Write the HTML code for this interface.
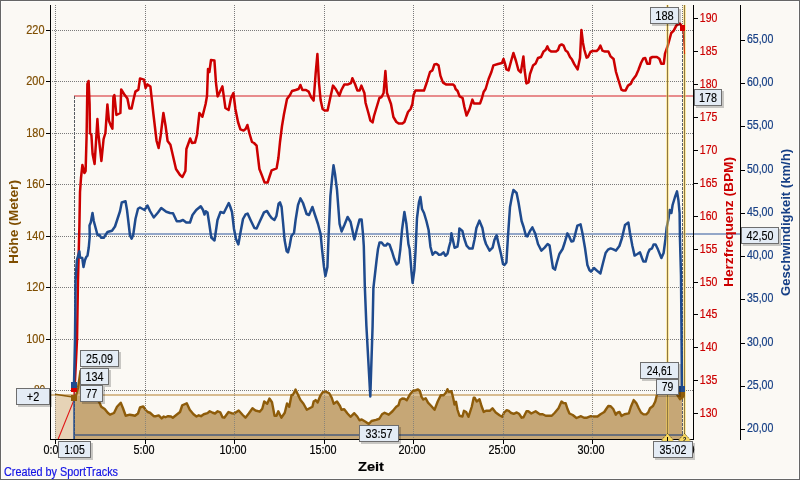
<!DOCTYPE html>
<html><head><meta charset="utf-8"><title>Chart</title>
<style>
html,body{margin:0;padding:0;background:#FBF9F4;overflow:hidden}
svg{display:block;will-change:transform;transform:translateZ(0)}
text{font-family:"Liberation Sans",sans-serif}
</style></head><body>
<svg width="800" height="480" viewBox="0 0 800 480">
<rect x="0" y="0" width="800" height="480" fill="#FBF9F4"/>
<rect x="0.5" y="0.5" width="799" height="479" fill="none" stroke="#666666" stroke-width="1" shape-rendering="crispEdges"/>
<rect x="1.5" y="1.5" width="797" height="477" fill="none" stroke="#ffffff" stroke-opacity="0.6" stroke-width="1" shape-rendering="crispEdges"/>
<g stroke="#7a7a7a" stroke-width="1" stroke-dasharray="1 1" shape-rendering="crispEdges" fill="none">
<line x1="55.5" y1="5" x2="55.5" y2="439"/>
<line x1="145.5" y1="5" x2="145.5" y2="439"/>
<line x1="234.5" y1="5" x2="234.5" y2="439"/>
<line x1="324.5" y1="5" x2="324.5" y2="439"/>
<line x1="413.5" y1="5" x2="413.5" y2="439"/>
<line x1="503.5" y1="5" x2="503.5" y2="439"/>
<line x1="592.5" y1="5" x2="592.5" y2="439"/>
<line x1="682.5" y1="5" x2="682.5" y2="439"/>
<line x1="52" y1="30.5" x2="693" y2="30.5"/>
<line x1="52" y1="81.5" x2="693" y2="81.5"/>
<line x1="52" y1="133.5" x2="693" y2="133.5"/>
<line x1="52" y1="184.5" x2="693" y2="184.5"/>
<line x1="52" y1="236.5" x2="693" y2="236.5"/>
<line x1="52" y1="287.5" x2="693" y2="287.5"/>
<line x1="52" y1="339.5" x2="693" y2="339.5"/>
<line x1="52" y1="390.5" x2="693" y2="390.5"/>
</g>
<polygon fill="#E6D3B6" points="55,439 55.00,394.30 71.30,396.70 74.00,398.00 74,439"/>
<polygon fill="#C6A776" points="74,439 74.00,398.00 76.20,395.00 78.00,388.00 80.50,371.00 84.00,371.00 90.00,386.00 96.00,399.00 99.30,402.25 101.25,406.75 104.70,409.00 107.70,412.75 110.00,414.70 114.00,413.00 117.00,406.75 120.75,402.70 123.00,408.25 125.70,415.75 129.75,414.70 132.75,415.30 135.00,415.75 138.00,413.50 140.00,407.50 143.25,406.45 145.50,409.75 147.75,412.00 150.00,412.75 153.75,416.20 156.00,416.20 158.70,415.45 161.70,418.45 163.80,416.50 165.45,417.25 168.00,416.20 171.00,416.50 172.80,417.70 176.25,415.00 180.00,412.00 182.25,405.25 186.75,403.30 189.75,409.75 193.50,414.25 196.50,416.50 198.75,415.30 201.00,416.20 203.75,414.25 207.50,413.20 209.75,411.25 212.75,412.75 215.00,413.50 217.70,411.25 220.25,412.30 222.50,417.25 224.30,417.70 228.50,412.00 231.50,413.20 234.20,413.50 238.70,410.50 242.75,415.00 245.45,417.70 248.75,413.50 252.50,408.25 255.50,410.50 259.70,411.70 262.25,408.70 264.20,401.50 267.20,403.75 269.45,398.50 272.00,402.25 274.55,415.75 276.50,415.75 278.30,411.25 281.45,417.70 284.75,412.75 287.00,403.45 289.25,406.75 291.50,395.20 293.00,394.75 295.55,389.50 297.50,393.70 300.50,400.00 303.50,403.75 306.80,409.75 312.40,406.75 313.65,401.50 315.60,400.10 317.60,402.50 320.20,396.00 322.75,392.20 325.75,391.45 329.20,393.25 331.75,397.75 333.70,403.75 337.00,401.50 340.00,406.00 341.50,409.75 344.20,409.30 347.50,413.50 350.50,416.80 354.25,413.20 357.25,416.50 359.50,420.25 361.75,419.50 365.50,421.75 368.80,424.00 371.50,421.00 376.00,419.95 379.30,418.75 382.00,414.25 384.55,412.75 388.75,414.70 392.50,411.25 396.25,406.75 398.50,405.25 400.00,400.00 402.25,398.50 404.50,398.80 406.75,400.30 409.75,394.75 412.75,391.00 415.75,390.25 418.00,389.50 419.90,391.00 421.40,396.60 423.30,399.50 425.70,398.20 428.00,402.60 431.25,406.00 434.55,409.75 437.70,401.50 440.70,395.20 443.70,395.20 445.80,392.80 447.45,389.20 448.80,391.75 451.50,391.30 453.30,398.50 454.50,404.50 456.00,401.80 457.50,409.75 459.45,415.75 462.45,416.50 463.95,410.80 466.20,412.00 468.45,416.80 471.75,406.75 473.70,397.75 474.75,397.75 476.70,401.50 479.55,399.25 481.50,406.00 483.75,412.00 486.00,410.80 489.75,410.80 492.45,408.25 495.75,412.45 499.50,415.30 502.20,416.80 504.00,412.75 506.70,410.20 508.80,410.80 510.75,412.75 513.75,413.80 516.75,412.45 519.00,413.80 521.70,417.70 523.50,417.25 526.50,411.25 528.30,411.25 531.30,413.50 535.60,411.25 539.75,414.25 542.75,414.25 545.75,415.75 551.75,415.75 554.75,412.75 558.50,408.25 561.50,401.50 563.30,403.00 565.70,403.30 567.50,409.00 569.45,413.50 572.75,415.00 576.50,418.00 581.00,416.20 584.00,417.70 587.00,417.70 590.75,416.20 593.75,416.50 597.50,416.50 600.50,414.25 604.25,412.00 606.20,409.00 608.30,406.00 610.70,406.30 613.25,409.00 615.80,414.70 617.30,412.75 619.55,412.00 621.50,415.90 624.50,414.25 628.80,413.30 630.80,407.00 633.65,400.10 636.30,403.10 638.75,408.25 641.00,412.50 643.50,414.40 646.25,414.30 648.20,412.40 650.00,408.25 653.00,406.00 655.25,401.50 656.75,395.50 659.00,388.00 664.00,384.00 670.00,386.00 675.00,391.00 677.75,395.50 680.00,399.25 682.25,394.00 682.4,439"/>
<rect x="51" y="394" width="631" height="2" fill="#D8BC90" shape-rendering="crispEdges"/>
<polyline fill="none" stroke="#8E5C0A" stroke-width="1.6" stroke-linejoin="round" points="55.00,394.30 71.30,396.70 74.00,398.00"/>
<polyline fill="none" stroke="#8E5C0A" stroke-width="2.4" stroke-linejoin="round" stroke-linecap="round" points="74.00,398.00 76.20,395.00 78.00,388.00 80.50,371.00 84.00,371.00 90.00,386.00 96.00,399.00 99.30,402.25 101.25,406.75 104.70,409.00 107.70,412.75 110.00,414.70 114.00,413.00 117.00,406.75 120.75,402.70 123.00,408.25 125.70,415.75 129.75,414.70 132.75,415.30 135.00,415.75 138.00,413.50 140.00,407.50 143.25,406.45 145.50,409.75 147.75,412.00 150.00,412.75 153.75,416.20 156.00,416.20 158.70,415.45 161.70,418.45 163.80,416.50 165.45,417.25 168.00,416.20 171.00,416.50 172.80,417.70 176.25,415.00 180.00,412.00 182.25,405.25 186.75,403.30 189.75,409.75 193.50,414.25 196.50,416.50 198.75,415.30 201.00,416.20 203.75,414.25 207.50,413.20 209.75,411.25 212.75,412.75 215.00,413.50 217.70,411.25 220.25,412.30 222.50,417.25 224.30,417.70 228.50,412.00 231.50,413.20 234.20,413.50 238.70,410.50 242.75,415.00 245.45,417.70 248.75,413.50 252.50,408.25 255.50,410.50 259.70,411.70 262.25,408.70 264.20,401.50 267.20,403.75 269.45,398.50 272.00,402.25 274.55,415.75 276.50,415.75 278.30,411.25 281.45,417.70 284.75,412.75 287.00,403.45 289.25,406.75 291.50,395.20 293.00,394.75 295.55,389.50 297.50,393.70 300.50,400.00 303.50,403.75 306.80,409.75 312.40,406.75 313.65,401.50 315.60,400.10 317.60,402.50 320.20,396.00 322.75,392.20 325.75,391.45 329.20,393.25 331.75,397.75 333.70,403.75 337.00,401.50 340.00,406.00 341.50,409.75 344.20,409.30 347.50,413.50 350.50,416.80 354.25,413.20 357.25,416.50 359.50,420.25 361.75,419.50 365.50,421.75 368.80,424.00 371.50,421.00 376.00,419.95 379.30,418.75 382.00,414.25 384.55,412.75 388.75,414.70 392.50,411.25 396.25,406.75 398.50,405.25 400.00,400.00 402.25,398.50 404.50,398.80 406.75,400.30 409.75,394.75 412.75,391.00 415.75,390.25 418.00,389.50 419.90,391.00 421.40,396.60 423.30,399.50 425.70,398.20 428.00,402.60 431.25,406.00 434.55,409.75 437.70,401.50 440.70,395.20 443.70,395.20 445.80,392.80 447.45,389.20 448.80,391.75 451.50,391.30 453.30,398.50 454.50,404.50 456.00,401.80 457.50,409.75 459.45,415.75 462.45,416.50 463.95,410.80 466.20,412.00 468.45,416.80 471.75,406.75 473.70,397.75 474.75,397.75 476.70,401.50 479.55,399.25 481.50,406.00 483.75,412.00 486.00,410.80 489.75,410.80 492.45,408.25 495.75,412.45 499.50,415.30 502.20,416.80 504.00,412.75 506.70,410.20 508.80,410.80 510.75,412.75 513.75,413.80 516.75,412.45 519.00,413.80 521.70,417.70 523.50,417.25 526.50,411.25 528.30,411.25 531.30,413.50 535.60,411.25 539.75,414.25 542.75,414.25 545.75,415.75 551.75,415.75 554.75,412.75 558.50,408.25 561.50,401.50 563.30,403.00 565.70,403.30 567.50,409.00 569.45,413.50 572.75,415.00 576.50,418.00 581.00,416.20 584.00,417.70 587.00,417.70 590.75,416.20 593.75,416.50 597.50,416.50 600.50,414.25 604.25,412.00 606.20,409.00 608.30,406.00 610.70,406.30 613.25,409.00 615.80,414.70 617.30,412.75 619.55,412.00 621.50,415.90 624.50,414.25 628.80,413.30 630.80,407.00 633.65,400.10 636.30,403.10 638.75,408.25 641.00,412.50 643.50,414.40 646.25,414.30 648.20,412.40 650.00,408.25 653.00,406.00 655.25,401.50 656.75,395.50 659.00,388.00 664.00,384.00 670.00,386.00 675.00,391.00 677.75,395.50 680.00,399.25 682.25,394.00"/>
<g stroke="#8a8478" stroke-width="1" stroke-dasharray="1 1" shape-rendering="crispEdges" fill="none">
<line x1="55.5" y1="393" x2="55.5" y2="439"/>
<line x1="145.5" y1="393" x2="145.5" y2="439"/>
<line x1="234.5" y1="393" x2="234.5" y2="439"/>
<line x1="324.5" y1="393" x2="324.5" y2="439"/>
<line x1="413.5" y1="393" x2="413.5" y2="439"/>
<line x1="503.5" y1="393" x2="503.5" y2="439"/>
<line x1="592.5" y1="393" x2="592.5" y2="439"/>
</g>
<rect x="75" y="434" width="607.5" height="2" fill="#6A6F79" shape-rendering="crispEdges"/>
<rect x="74" y="95" width="619" height="2" fill="#E88C8C" shape-rendering="crispEdges"/>
<rect x="74" y="233" width="666" height="2" fill="#93A7C8" shape-rendering="crispEdges"/>
<line x1="74.5" y1="96" x2="74.5" y2="439" stroke="#565B62" stroke-width="1" stroke-dasharray="3 1" shape-rendering="crispEdges"/>
<line x1="682.5" y1="31" x2="682.5" y2="439" stroke="#5A6070" stroke-width="1" stroke-dasharray="3 1" shape-rendering="crispEdges"/>
<polyline fill="none" stroke="#E01818" stroke-width="1.1" points="58.2,439 73.8,400.5 74,390"/>
<polyline fill="none" stroke="#CC0000" stroke-width="2.5" stroke-linejoin="round" stroke-linecap="round" points="74.00,390.00 75.00,380.00 77.00,340.00 78.00,280.00 79.40,226.00 80.00,192.00 81.00,178.00 82.40,165.00 84.40,173.00 85.60,171.00 86.60,136.00 87.40,84.00 88.60,81.00 89.60,104.00 90.00,133.00 91.40,135.00 92.60,154.00 94.60,164.00 96.00,142.00 97.40,119.00 98.40,134.00 101.40,161.00 103.60,139.00 105.40,133.00 107.40,104.40 109.00,121.00 111.00,126.00 112.40,128.60 113.40,97.00 114.40,95.00 116.40,115.00 120.40,113.00 121.20,89.40 124.00,94.00 127.40,98.60 129.40,108.60 131.60,108.60 133.40,100.00 135.40,91.60 138.40,89.60 140.00,78.40 144.00,79.60 145.60,88.00 147.40,84.40 150.40,86.60 153.40,114.00 156.60,141.00 158.60,148.00 160.60,136.00 163.40,113.00 165.60,126.00 167.60,141.00 170.40,144.80 176.00,169.00 180.00,175.00 182.40,177.00 185.40,171.00 186.40,149.00 190.20,138.50 192.00,143.00 195.00,142.60 197.00,135.00 199.40,113.00 202.40,116.80 205.60,104.00 207.00,96.00 208.00,69.00 209.40,72.00 211.00,60.00 214.40,60.40 216.00,83.00 217.60,96.40 220.00,91.60 222.40,86.40 225.40,108.00 228.60,110.00 231.00,98.00 233.40,93.00 235.40,109.00 238.00,122.00 240.40,129.40 243.60,130.60 245.60,129.00 247.40,125.00 249.60,134.00 252.00,142.00 254.00,143.00 256.60,145.60 259.40,169.00 262.00,175.60 264.60,182.60 267.60,182.60 269.40,177.00 271.60,170.40 276.60,168.40 278.40,158.00 280.00,142.00 282.00,126.00 284.00,114.00 287.00,99.00 290.00,95.00 292.00,91.00 295.60,90.00 298.60,89.00 300.40,85.00 302.40,90.00 306.00,90.00 308.60,91.60 311.00,97.00 313.60,100.60 315.60,74.00 317.40,54.00 319.00,83.00 320.60,100.00 322.60,109.00 325.00,110.60 327.60,110.40 330.00,99.00 333.00,85.60 336.00,89.60 339.40,95.60 341.40,90.00 344.40,84.40 348.00,84.40 351.00,83.00 352.40,78.20 355.00,84.00 357.40,90.50 359.60,90.60 361.40,85.60 364.40,93.00 365.60,103.00 368.40,113.00 370.40,120.60 372.60,122.40 374.00,116.00 379.40,98.00 381.60,97.00 383.60,93.00 385.40,71.00 387.00,93.00 391.00,104.00 393.40,117.00 396.40,122.00 399.00,123.60 402.40,123.60 404.40,122.00 408.00,112.00 410.60,109.00 412.40,104.00 413.60,95.00 415.40,90.60 424.00,90.60 426.60,83.00 430.00,72.00 432.40,70.40 434.40,64.40 436.60,64.00 438.60,65.60 440.40,75.60 443.00,82.60 446.00,84.40 453.00,84.40 454.60,86.00 455.60,89.00 457.60,91.00 459.60,96.40 462.60,98.00 464.40,107.00 466.60,115.60 469.60,109.00 472.40,99.60 474.00,103.60 480.00,103.60 482.00,98.00 483.60,92.00 485.60,89.00 488.60,79.00 491.40,72.00 493.40,65.40 498.00,64.00 502.00,63.00 503.50,59.00 505.00,63.60 506.40,69.40 508.60,70.40 511.40,60.00 513.40,53.00 516.00,61.00 518.40,70.00 520.80,72.40 523.40,56.40 524.60,70.00 526.40,83.40 528.60,82.40 530.00,74.00 533.00,65.60 535.60,63.60 538.00,58.00 541.00,57.00 543.60,51.40 545.60,50.00 547.40,46.40 549.00,50.00 551.40,51.60 556.00,51.60 558.00,50.00 559.60,45.60 561.60,44.40 563.60,45.60 565.60,50.60 567.60,52.00 570.00,57.00 572.00,59.60 574.40,64.40 577.60,69.40 580.00,58.00 581.40,30.00 583.00,43.00 584.40,50.00 586.60,57.60 588.00,57.00 590.40,52.00 592.60,51.00 596.60,51.00 598.40,49.40 600.40,45.60 602.40,50.60 605.00,51.60 608.40,51.60 610.60,56.40 613.60,59.00 616.00,72.00 619.00,82.00 621.40,89.60 623.40,90.60 625.60,90.40 628.00,85.60 631.00,83.60 632.60,80.00 636.00,75.40 638.40,70.00 641.00,63.00 643.40,58.40 645.20,58.00 647.25,63.75 649.75,63.75 650.40,58.00 652.50,57.00 656.90,57.00 659.40,58.75 661.25,63.75 663.75,63.75 665.00,53.75 668.00,45.00 671.25,33.00 673.75,30.60 676.25,25.60 678.00,24.40 680.00,23.75 682.00,26.50"/>
<line x1="74" y1="400" x2="74" y2="439" stroke="#1F4B8E" stroke-width="1.4"/>
<polyline fill="none" stroke="#1F4B8E" stroke-width="2.5" stroke-linejoin="round" stroke-linecap="round" points="74.00,385.00 75.00,340.00 75.60,280.00 76.90,260.00 79.40,251.25 80.00,257.50 82.25,258.00 83.50,267.00 85.00,260.00 86.25,257.00 87.50,255.60 88.75,247.50 89.75,236.25 89.50,225.50 90.75,222.50 92.50,213.00 93.75,221.00 97.50,235.00 99.50,235.00 101.25,237.70 103.75,237.70 107.50,232.00 112.00,230.70 115.00,226.50 120.00,211.25 121.75,202.50 125.50,201.25 127.00,210.00 130.00,235.50 131.60,238.75 133.20,235.00 135.50,218.75 138.00,208.75 140.00,207.50 144.50,210.00 147.50,205.50 150.00,211.00 153.75,217.50 158.00,212.50 161.25,208.00 166.25,211.75 170.00,213.00 173.00,213.25 176.75,221.25 180.00,221.25 183.00,220.00 186.25,222.50 190.00,222.50 192.50,215.00 196.25,210.00 200.75,206.25 203.00,210.00 204.50,214.50 205.75,211.25 207.50,212.50 209.25,223.75 211.25,237.50 214.50,240.50 217.50,220.00 220.50,212.00 223.75,213.00 228.75,203.00 230.00,206.00 232.00,212.00 234.00,229.00 236.00,239.00 238.40,244.40 240.40,233.00 243.00,219.00 245.60,214.40 247.60,213.60 251.00,221.00 254.40,228.00 256.60,228.40 260.00,221.00 264.00,212.40 267.00,211.00 269.40,215.00 271.60,218.00 274.40,220.00 276.40,216.00 278.60,203.60 280.00,202.40 281.60,207.00 283.00,222.00 284.60,240.00 286.60,251.00 288.00,252.40 289.60,246.00 291.40,236.00 294.00,233.00 295.60,220.00 298.00,205.00 300.40,198.40 303.00,203.00 306.60,214.00 309.00,215.00 312.40,207.00 315.00,215.00 318.00,224.00 320.60,234.00 322.00,249.00 324.00,267.00 325.40,276.00 327.40,267.00 328.60,236.00 330.40,196.00 332.00,179.00 333.50,165.30 335.00,174.00 337.00,190.00 339.60,224.00 341.60,231.50 344.40,225.00 347.60,217.00 350.60,222.00 354.40,239.50 357.00,229.00 359.60,219.40 361.60,219.40 363.00,234.00 363.80,246.00 364.80,286.00 366.40,326.00 370.30,396.50 372.60,326.00 373.40,288.00 376.60,260.00 378.00,249.00 379.60,242.40 381.60,242.40 384.00,245.50 386.00,245.50 387.50,243.50 389.50,244.50 392.20,252.00 394.00,258.00 396.60,264.50 398.60,262.70 400.30,249.50 402.00,230.00 404.40,212.00 406.40,224.00 408.40,244.00 409.60,249.00 411.60,273.00 412.60,283.00 414.40,270.00 415.60,250.00 417.00,218.00 419.00,202.00 420.40,197.00 422.00,209.00 424.00,213.00 426.40,221.00 428.60,230.00 430.50,247.00 432.60,254.80 435.00,252.00 437.00,252.80 439.00,254.80 441.00,254.50 443.50,252.40 445.50,255.80 447.60,253.60 449.00,247.00 450.40,242.00 451.40,233.30 453.00,240.50 454.60,247.80 457.40,246.70 458.50,240.00 459.40,228.40 462.40,231.00 464.40,239.00 466.60,245.60 469.40,248.60 472.60,248.60 474.40,240.00 476.40,228.00 479.40,220.60 482.40,228.00 484.40,239.00 486.00,244.00 489.60,250.60 492.60,247.60 494.40,240.00 496.60,235.40 498.60,244.00 501.00,254.00 503.00,264.00 504.40,265.00 506.40,262.40 508.00,236.00 510.00,207.00 512.00,196.00 513.40,190.00 516.60,193.00 518.60,203.00 521.60,221.00 523.60,227.00 526.00,236.00 527.40,236.40 530.00,231.00 532.40,227.40 535.40,234.00 538.00,244.00 541.40,250.60 544.60,247.60 547.60,244.00 549.60,245.60 551.40,258.00 553.00,268.00 555.00,269.60 557.00,262.00 559.40,254.00 562.60,249.00 564.60,243.00 567.40,233.40 569.40,237.00 571.40,241.60 573.40,241.00 575.00,235.00 577.40,225.60 580.60,224.40 582.40,233.00 585.00,248.00 587.40,265.00 589.40,270.00 591.00,271.60 594.00,268.00 598.00,271.60 600.40,273.40 603.00,263.00 605.60,253.00 608.00,249.60 610.60,248.40 613.40,249.40 616.00,250.60 619.40,246.00 622.00,238.00 625.00,225.00 628.40,222.60 630.00,233.00 632.40,246.00 634.60,255.60 637.40,254.00 640.00,252.40 642.00,258.00 643.40,261.60 645.60,261.60 648.00,253.00 649.60,249.60 652.00,248.40 653.60,244.40 655.60,244.40 658.00,249.60 661.40,258.00 663.60,253.00 665.60,238.00 666.60,228.00 668.60,218.00 669.60,210.00 671.40,213.00 672.60,205.00 675.00,197.00 677.00,191.40 678.40,200.00 679.60,213.00 680.00,240.00 681.00,276.00 682.00,389.00"/>
<line x1="667.5" y1="5" x2="667.5" y2="436" stroke="#FFD84A" stroke-opacity="0.45" stroke-width="3" shape-rendering="crispEdges"/>
<line x1="667.5" y1="5" x2="667.5" y2="436" stroke="#8F7840" stroke-width="1" shape-rendering="crispEdges"/>
<line x1="684.5" y1="5" x2="684.5" y2="436" stroke="#FFD84A" stroke-opacity="0.45" stroke-width="3" shape-rendering="crispEdges"/>
<line x1="684.5" y1="5" x2="684.5" y2="436" stroke="#8F7840" stroke-width="1" shape-rendering="crispEdges"/>
<polyline fill="none" stroke="#D03010" stroke-width="1.1" points="683,29 684.6,54"/>
<g stroke="#000" stroke-width="1" shape-rendering="crispEdges" fill="none">
<line x1="50.5" y1="5" x2="50.5" y2="439.5"/>
<line x1="50" y1="439" x2="694" y2="439"/>
<line x1="693.5" y1="5" x2="693.5" y2="439.5"/>
<line x1="740.5" y1="5" x2="740.5" y2="439.5"/>
<line x1="46" y1="30.5" x2="50" y2="30.5"/>
<line x1="46" y1="81.5" x2="50" y2="81.5"/>
<line x1="46" y1="133.5" x2="50" y2="133.5"/>
<line x1="46" y1="184.5" x2="50" y2="184.5"/>
<line x1="46" y1="236.5" x2="50" y2="236.5"/>
<line x1="46" y1="287.5" x2="50" y2="287.5"/>
<line x1="46" y1="339.5" x2="50" y2="339.5"/>
<line x1="46" y1="390.5" x2="50" y2="390.5"/>
<line x1="55.5" y1="439" x2="55.5" y2="444"/>
<line x1="145.5" y1="439" x2="145.5" y2="444"/>
<line x1="234.5" y1="439" x2="234.5" y2="444"/>
<line x1="324.5" y1="439" x2="324.5" y2="444"/>
<line x1="413.5" y1="439" x2="413.5" y2="444"/>
<line x1="503.5" y1="439" x2="503.5" y2="444"/>
<line x1="592.5" y1="439" x2="592.5" y2="444"/>
<line x1="682.5" y1="439" x2="682.5" y2="444"/>
<line x1="694" y1="18.5" x2="698" y2="18.5"/>
<line x1="694" y1="51.5" x2="698" y2="51.5"/>
<line x1="694" y1="84.5" x2="698" y2="84.5"/>
<line x1="694" y1="117.5" x2="698" y2="117.5"/>
<line x1="694" y1="150.5" x2="698" y2="150.5"/>
<line x1="694" y1="183.5" x2="698" y2="183.5"/>
<line x1="694" y1="216.5" x2="698" y2="216.5"/>
<line x1="694" y1="249.5" x2="698" y2="249.5"/>
<line x1="694" y1="282.5" x2="698" y2="282.5"/>
<line x1="694" y1="314.5" x2="698" y2="314.5"/>
<line x1="694" y1="347.5" x2="698" y2="347.5"/>
<line x1="694" y1="380.5" x2="698" y2="380.5"/>
<line x1="694" y1="413.5" x2="698" y2="413.5"/>
<line x1="741" y1="40.5" x2="745" y2="40.5"/>
<line x1="741" y1="83.5" x2="745" y2="83.5"/>
<line x1="741" y1="126.5" x2="745" y2="126.5"/>
<line x1="741" y1="170.5" x2="745" y2="170.5"/>
<line x1="741" y1="213.5" x2="745" y2="213.5"/>
<line x1="741" y1="256.5" x2="745" y2="256.5"/>
<line x1="741" y1="299.5" x2="745" y2="299.5"/>
<line x1="741" y1="343.5" x2="745" y2="343.5"/>
<line x1="741" y1="386.5" x2="745" y2="386.5"/>
<line x1="741" y1="429.5" x2="745" y2="429.5"/>
</g>
<text x="26.3" y="33.6" font-size="12" fill="#7F4E00" stroke="#7F4E00" stroke-width="0.2" text-anchor="start" textLength="18.2" lengthAdjust="spacingAndGlyphs">220</text>
<text x="26.3" y="84.6" font-size="12" fill="#7F4E00" stroke="#7F4E00" stroke-width="0.2" text-anchor="start" textLength="18.2" lengthAdjust="spacingAndGlyphs">200</text>
<text x="26.3" y="136.6" font-size="12" fill="#7F4E00" stroke="#7F4E00" stroke-width="0.2" text-anchor="start" textLength="18.2" lengthAdjust="spacingAndGlyphs">180</text>
<text x="26.3" y="187.6" font-size="12" fill="#7F4E00" stroke="#7F4E00" stroke-width="0.2" text-anchor="start" textLength="18.2" lengthAdjust="spacingAndGlyphs">160</text>
<text x="26.3" y="239.6" font-size="12" fill="#7F4E00" stroke="#7F4E00" stroke-width="0.2" text-anchor="start" textLength="18.2" lengthAdjust="spacingAndGlyphs">140</text>
<text x="26.3" y="290.6" font-size="12" fill="#7F4E00" stroke="#7F4E00" stroke-width="0.2" text-anchor="start" textLength="18.2" lengthAdjust="spacingAndGlyphs">120</text>
<text x="26.3" y="342.6" font-size="12" fill="#7F4E00" stroke="#7F4E00" stroke-width="0.2" text-anchor="start" textLength="18.2" lengthAdjust="spacingAndGlyphs">100</text>
<text x="33.9" y="393.6" font-size="12" fill="#7F4E00" stroke="#7F4E00" stroke-width="0.2" text-anchor="start" textLength="11.4" lengthAdjust="spacingAndGlyphs">80</text>
<text x="699.8" y="22.1" font-size="12" fill="#CC0000" stroke="#CC0000" stroke-width="0.2" text-anchor="start" textLength="17.5" lengthAdjust="spacingAndGlyphs">190</text>
<text x="699.8" y="55.1" font-size="12" fill="#CC0000" stroke="#CC0000" stroke-width="0.2" text-anchor="start" textLength="17.5" lengthAdjust="spacingAndGlyphs">185</text>
<text x="699.8" y="88.1" font-size="12" fill="#CC0000" stroke="#CC0000" stroke-width="0.2" text-anchor="start" textLength="17.5" lengthAdjust="spacingAndGlyphs">180</text>
<text x="699.8" y="121.1" font-size="12" fill="#CC0000" stroke="#CC0000" stroke-width="0.2" text-anchor="start" textLength="17.5" lengthAdjust="spacingAndGlyphs">175</text>
<text x="699.8" y="154.1" font-size="12" fill="#CC0000" stroke="#CC0000" stroke-width="0.2" text-anchor="start" textLength="17.5" lengthAdjust="spacingAndGlyphs">170</text>
<text x="699.8" y="187.1" font-size="12" fill="#CC0000" stroke="#CC0000" stroke-width="0.2" text-anchor="start" textLength="17.5" lengthAdjust="spacingAndGlyphs">165</text>
<text x="699.8" y="220.1" font-size="12" fill="#CC0000" stroke="#CC0000" stroke-width="0.2" text-anchor="start" textLength="17.5" lengthAdjust="spacingAndGlyphs">160</text>
<text x="699.8" y="253.1" font-size="12" fill="#CC0000" stroke="#CC0000" stroke-width="0.2" text-anchor="start" textLength="17.5" lengthAdjust="spacingAndGlyphs">155</text>
<text x="699.8" y="286.1" font-size="12" fill="#CC0000" stroke="#CC0000" stroke-width="0.2" text-anchor="start" textLength="17.5" lengthAdjust="spacingAndGlyphs">150</text>
<text x="699.8" y="318.1" font-size="12" fill="#CC0000" stroke="#CC0000" stroke-width="0.2" text-anchor="start" textLength="17.5" lengthAdjust="spacingAndGlyphs">145</text>
<text x="699.8" y="351.1" font-size="12" fill="#CC0000" stroke="#CC0000" stroke-width="0.2" text-anchor="start" textLength="17.5" lengthAdjust="spacingAndGlyphs">140</text>
<text x="699.8" y="384.1" font-size="12" fill="#CC0000" stroke="#CC0000" stroke-width="0.2" text-anchor="start" textLength="17.5" lengthAdjust="spacingAndGlyphs">135</text>
<text x="699.8" y="417.1" font-size="12" fill="#CC0000" stroke="#CC0000" stroke-width="0.2" text-anchor="start" textLength="17.5" lengthAdjust="spacingAndGlyphs">130</text>
<text x="746.9" y="43.3" font-size="12" fill="#163F85" stroke="#163F85" stroke-width="0.2" text-anchor="start" textLength="26.5" lengthAdjust="spacingAndGlyphs">65,00</text>
<text x="746.9" y="86.3" font-size="12" fill="#163F85" stroke="#163F85" stroke-width="0.2" text-anchor="start" textLength="26.5" lengthAdjust="spacingAndGlyphs">60,00</text>
<text x="746.9" y="129.3" font-size="12" fill="#163F85" stroke="#163F85" stroke-width="0.2" text-anchor="start" textLength="26.5" lengthAdjust="spacingAndGlyphs">55,00</text>
<text x="746.9" y="173.3" font-size="12" fill="#163F85" stroke="#163F85" stroke-width="0.2" text-anchor="start" textLength="26.5" lengthAdjust="spacingAndGlyphs">50,00</text>
<text x="746.9" y="216.3" font-size="12" fill="#163F85" stroke="#163F85" stroke-width="0.2" text-anchor="start" textLength="26.5" lengthAdjust="spacingAndGlyphs">45,00</text>
<text x="746.9" y="259.3" font-size="12" fill="#163F85" stroke="#163F85" stroke-width="0.2" text-anchor="start" textLength="26.5" lengthAdjust="spacingAndGlyphs">40,00</text>
<text x="746.9" y="302.3" font-size="12" fill="#163F85" stroke="#163F85" stroke-width="0.2" text-anchor="start" textLength="26.5" lengthAdjust="spacingAndGlyphs">35,00</text>
<text x="746.9" y="346.3" font-size="12" fill="#163F85" stroke="#163F85" stroke-width="0.2" text-anchor="start" textLength="26.5" lengthAdjust="spacingAndGlyphs">30,00</text>
<text x="746.9" y="389.3" font-size="12" fill="#163F85" stroke="#163F85" stroke-width="0.2" text-anchor="start" textLength="26.5" lengthAdjust="spacingAndGlyphs">25,00</text>
<text x="746.9" y="432.3" font-size="12" fill="#163F85" stroke="#163F85" stroke-width="0.2" text-anchor="start" textLength="26.5" lengthAdjust="spacingAndGlyphs">20,00</text>
<text x="43.4" y="454" font-size="12" fill="#000" stroke="#000" stroke-width="0.2" text-anchor="start" textLength="21" lengthAdjust="spacingAndGlyphs">0:00</text>
<text x="133.4" y="454" font-size="12" fill="#000" stroke="#000" stroke-width="0.2" text-anchor="start" textLength="21" lengthAdjust="spacingAndGlyphs">5:00</text>
<text x="219.4" y="454" font-size="12" fill="#000" stroke="#000" stroke-width="0.2" text-anchor="start" textLength="27" lengthAdjust="spacingAndGlyphs">10:00</text>
<text x="309.4" y="454" font-size="12" fill="#000" stroke="#000" stroke-width="0.2" text-anchor="start" textLength="27" lengthAdjust="spacingAndGlyphs">15:00</text>
<text x="398.4" y="454" font-size="12" fill="#000" stroke="#000" stroke-width="0.2" text-anchor="start" textLength="27" lengthAdjust="spacingAndGlyphs">20:00</text>
<text x="488.4" y="454" font-size="12" fill="#000" stroke="#000" stroke-width="0.2" text-anchor="start" textLength="27" lengthAdjust="spacingAndGlyphs">25:00</text>
<text x="577.4" y="454" font-size="12" fill="#000" stroke="#000" stroke-width="0.2" text-anchor="start" textLength="27" lengthAdjust="spacingAndGlyphs">30:00</text>
<text x="667.4" y="454" font-size="12" fill="#000" stroke="#000" stroke-width="0.2" text-anchor="start" textLength="27" lengthAdjust="spacingAndGlyphs">35:00</text>
<text transform="translate(18.4,222) rotate(-90)" font-size="13.5" font-weight="bold" fill="#7F4E00" text-anchor="middle" textLength="84" lengthAdjust="spacingAndGlyphs">Höhe (Meter)</text>
<text transform="translate(733,222) rotate(-90)" font-size="13.5" font-weight="bold" fill="#CC0000" text-anchor="middle" textLength="130" lengthAdjust="spacingAndGlyphs">Herzfrequenz (BPM)</text>
<text transform="translate(790,222.4) rotate(-90)" font-size="13.5" font-weight="bold" fill="#163F85" text-anchor="middle" textLength="147" lengthAdjust="spacingAndGlyphs">Geschwindigkeit (km/h)</text>
<text x="358" y="471" font-size="13.5" fill="#000" stroke="#000" stroke-width="0.2" text-anchor="start" font-weight="bold" textLength="26" lengthAdjust="spacingAndGlyphs">Zeit</text>
<text x="4" y="475.5" font-size="12" fill="#1414E6" stroke="#1414E6" stroke-width="0.2" text-anchor="start" textLength="114" lengthAdjust="spacingAndGlyphs">Created by SportTracks</text>
<rect x="71" y="395" width="6" height="6" fill="#8E5C0A" shape-rendering="crispEdges"/>
<rect x="71" y="388" width="6" height="3.5" fill="#D80000" shape-rendering="crispEdges"/>
<rect x="71" y="382" width="6" height="6" fill="#1F4B8E" shape-rendering="crispEdges"/>
<rect x="680" y="25" width="5" height="6" fill="#D80000" shape-rendering="crispEdges"/>
<rect x="679" y="392" width="6" height="4" fill="#8E5C0A" shape-rendering="crispEdges"/>
<polygon points="679,396 685,396 682,400" fill="#8E5C0A"/>
<rect x="679" y="386" width="6" height="6" fill="#1F4B8E" shape-rendering="crispEdges"/>
<polygon points="667.5,433.5 673.5,440.0 672.0,441.5 663.0,441.5 661.5,440.0" fill="#F7D860" stroke="#4a3a10" stroke-width="0.8" stroke-dasharray="1.5 1"/>
<polygon points="684.5,433.5 690.5,440.0 689.0,441.5 680.0,441.5 678.5,440.0" fill="#F7D860" stroke="#4a3a10" stroke-width="0.8" stroke-dasharray="1.5 1"/>
<line x1="667.5" y1="437" x2="667.5" y2="441" stroke="#000" stroke-width="1" shape-rendering="crispEdges"/>
<text x="684.6" y="441.5" font-size="6.5" font-weight="bold" fill="#222" text-anchor="middle">2</text>
<rect x="652" y="9" width="29" height="17" fill="#000" fill-opacity="0.2" shape-rendering="crispEdges"/>
<rect x="650.5" y="7.5" width="28" height="16" fill="#E4ECF5" stroke="#6e6e6e" stroke-width="1" shape-rendering="crispEdges"/>
<text x="664.5" y="20" font-size="13" fill="#000" stroke="#000" stroke-width="0.15" text-anchor="middle" textLength="18.5" lengthAdjust="spacingAndGlyphs">188</text>
<rect x="696" y="91" width="28" height="17" fill="#000" fill-opacity="0.2" shape-rendering="crispEdges"/>
<rect x="694.5" y="89.5" width="27" height="16" fill="#E4ECF5" stroke="#6e6e6e" stroke-width="1" shape-rendering="crispEdges"/>
<text x="708.0" y="102" font-size="13" fill="#000" stroke="#000" stroke-width="0.15" text-anchor="middle" textLength="18" lengthAdjust="spacingAndGlyphs">178</text>
<rect x="743" y="229" width="38" height="17" fill="#000" fill-opacity="0.2" shape-rendering="crispEdges"/>
<rect x="741.5" y="227.5" width="37" height="16" fill="#E4ECF5" stroke="#6e6e6e" stroke-width="1" shape-rendering="crispEdges"/>
<text x="760.0" y="240" font-size="13" fill="#000" stroke="#000" stroke-width="0.15" text-anchor="middle" textLength="26.8" lengthAdjust="spacingAndGlyphs">42,50</text>
<rect x="82" y="352" width="39" height="17" fill="#000" fill-opacity="0.2" shape-rendering="crispEdges"/>
<rect x="80.5" y="350.5" width="38" height="16" fill="#E4ECF5" stroke="#6e6e6e" stroke-width="1" shape-rendering="crispEdges"/>
<text x="99.5" y="363" font-size="13" fill="#000" stroke="#000" stroke-width="0.15" text-anchor="middle" textLength="26.8" lengthAdjust="spacingAndGlyphs">25,09</text>
<rect x="82" y="370" width="29" height="17" fill="#000" fill-opacity="0.2" shape-rendering="crispEdges"/>
<rect x="80.5" y="368.5" width="28" height="16" fill="#E4ECF5" stroke="#6e6e6e" stroke-width="1" shape-rendering="crispEdges"/>
<text x="94.5" y="381" font-size="13" fill="#000" stroke="#000" stroke-width="0.15" text-anchor="middle" textLength="18" lengthAdjust="spacingAndGlyphs">134</text>
<rect x="82" y="387" width="23" height="17" fill="#000" fill-opacity="0.2" shape-rendering="crispEdges"/>
<rect x="80.5" y="385.5" width="22" height="16" fill="#E4ECF5" stroke="#6e6e6e" stroke-width="1" shape-rendering="crispEdges"/>
<text x="91.5" y="398" font-size="13" fill="#000" stroke="#000" stroke-width="0.15" text-anchor="middle" textLength="11.6" lengthAdjust="spacingAndGlyphs">77</text>
<rect x="18" y="390" width="34" height="17" fill="#000" fill-opacity="0.2" shape-rendering="crispEdges"/>
<rect x="16.5" y="388.5" width="33" height="16" fill="#E4ECF5" stroke="#6e6e6e" stroke-width="1" shape-rendering="crispEdges"/>
<text x="33.0" y="401" font-size="13" fill="#000" stroke="#000" stroke-width="0.15" text-anchor="middle" textLength="12.5" lengthAdjust="spacingAndGlyphs">+2</text>
<rect x="60" y="443" width="33" height="17" fill="#000" fill-opacity="0.2" shape-rendering="crispEdges"/>
<rect x="58.5" y="441.5" width="32" height="16" fill="#E4ECF5" stroke="#6e6e6e" stroke-width="1" shape-rendering="crispEdges"/>
<text x="74.5" y="454" font-size="13" fill="#000" stroke="#000" stroke-width="0.15" text-anchor="middle" textLength="20.5" lengthAdjust="spacingAndGlyphs">1:05</text>
<rect x="361" y="427" width="40" height="17" fill="#000" fill-opacity="0.2" shape-rendering="crispEdges"/>
<rect x="359.5" y="425.5" width="39" height="16" fill="#E4ECF5" stroke="#6e6e6e" stroke-width="1" shape-rendering="crispEdges"/>
<text x="379.0" y="438" font-size="13" fill="#000" stroke="#000" stroke-width="0.15" text-anchor="middle" textLength="26.8" lengthAdjust="spacingAndGlyphs">33:57</text>
<rect x="642" y="364" width="39" height="17" fill="#000" fill-opacity="0.2" shape-rendering="crispEdges"/>
<rect x="640.5" y="362.5" width="38" height="16" fill="#E4ECF5" stroke="#6e6e6e" stroke-width="1" shape-rendering="crispEdges"/>
<text x="659.5" y="375" font-size="13" fill="#000" stroke="#000" stroke-width="0.15" text-anchor="middle" textLength="25.6" lengthAdjust="spacingAndGlyphs">24,61</text>
<rect x="658" y="381" width="23" height="16" fill="#000" fill-opacity="0.2" shape-rendering="crispEdges"/>
<rect x="656.5" y="379.5" width="22" height="15" fill="#E4ECF5" stroke="#6e6e6e" stroke-width="1" shape-rendering="crispEdges"/>
<text x="667.5" y="391" font-size="13" fill="#000" stroke="#000" stroke-width="0.15" text-anchor="middle" textLength="11.6" lengthAdjust="spacingAndGlyphs">79</text>
<rect x="655" y="443" width="40" height="17" fill="#000" fill-opacity="0.2" shape-rendering="crispEdges"/>
<rect x="653.5" y="441.5" width="39" height="16" fill="#E4ECF5" stroke="#6e6e6e" stroke-width="1" shape-rendering="crispEdges"/>
<text x="673.0" y="454" font-size="13" fill="#000" stroke="#000" stroke-width="0.15" text-anchor="middle" textLength="26.8" lengthAdjust="spacingAndGlyphs">35:02</text>
</svg>
</body></html>
